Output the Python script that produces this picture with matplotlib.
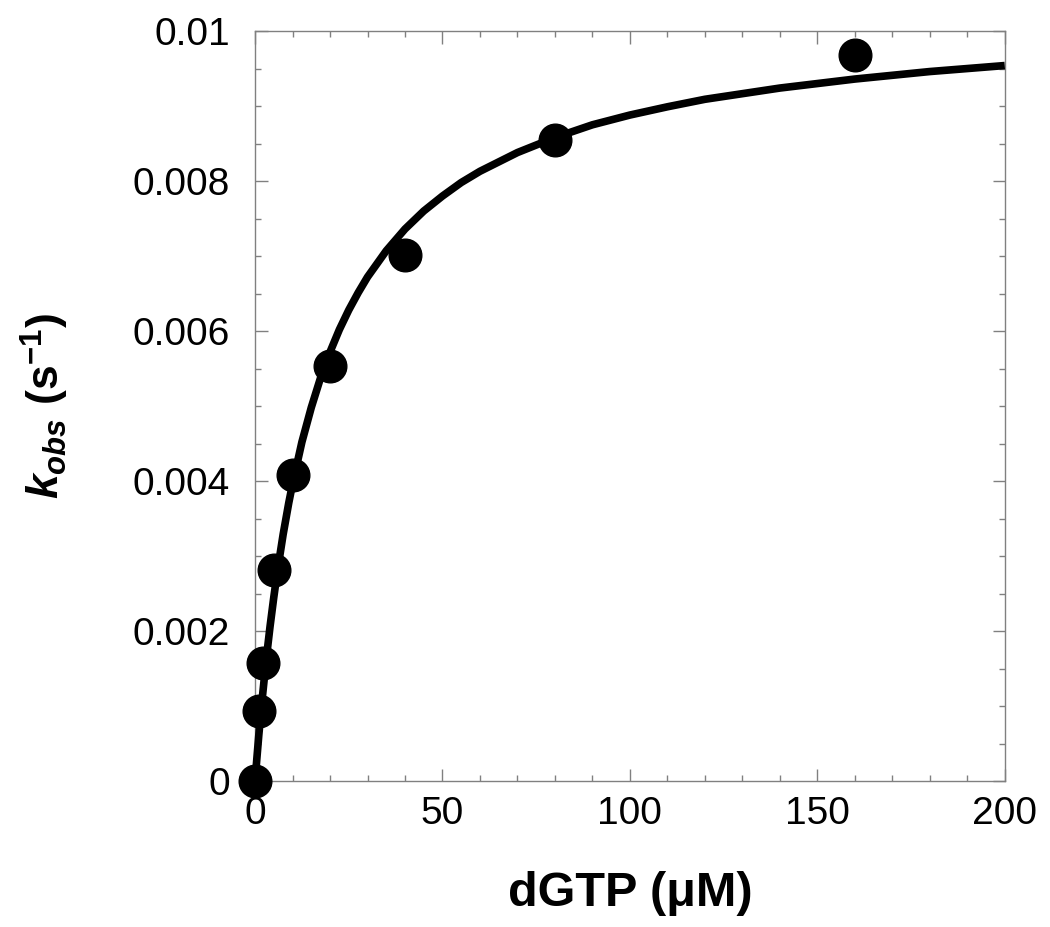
import matplotlib
matplotlib.use('Agg')
from matplotlib import pyplot as plt
from matplotlib.ticker import MultipleLocator

plt.rcParams['font.family'] = ['Liberation Sans', 'DejaVu Sans']
plt.rcParams['mathtext.fontset'] = 'custom'
plt.rcParams['mathtext.rm'] = 'Liberation Sans:bold'
plt.rcParams['mathtext.it'] = 'Liberation Sans:bold:italic'
plt.rcParams['mathtext.bf'] = 'Liberation Sans:bold'

# 测量点
dgtp = [0, 1, 2, 5, 10, 20, 40, 80, 160]
kobs = [0, 0.00093, 0.00157, 0.00281, 0.00408, 0.00553, 0.00701, 0.00855, 0.00968]

# 拟合曲线
fit_x = [0, 0.5, 1, 1.5, 2, 3, 4, 5, 6, 7.5, 9, 10, 12.5, 15, 17.5, 20, 22.5,
         25, 27.5, 30, 35, 40, 45, 50, 55, 60, 70, 80, 90, 100, 110, 120,
         140, 160, 180, 200]
fit_y = [0, 0.00031, 0.00061, 0.00088, 0.00114, 0.00163, 0.00206, 0.00245,
         0.00281, 0.00329, 0.00371, 0.00396, 0.00452, 0.00498, 0.00538,
         0.00572, 0.00602, 0.00628, 0.00651, 0.00672, 0.00707, 0.00736,
         0.00760, 0.00780, 0.00798, 0.00813, 0.00838, 0.00858, 0.00875,
         0.00888, 0.00899, 0.00909, 0.00924, 0.00936, 0.00946, 0.00954]

yticks = [0, 0.002, 0.004, 0.006, 0.008, 0.01]
ytick_labels = ['0', '0.002', '0.004', '0.006', '0.008', '0.01']
xticks = [0, 50, 100, 150, 200]

fig = plt.figure(figsize=(10.5, 9.27), dpi=100)
ax = fig.add_axes([0.2429, 0.1575, 0.714, 0.809])

ax.plot(fit_x, fit_y, color='black', lw=5.5, solid_capstyle='butt', solid_joinstyle='round',
        clip_on=False, zorder=3)
ax.plot(dgtp, kobs, 'o', color='black', ms=23.5, clip_on=False, zorder=4)

ax.set_xlim(0, 200)
ax.set_ylim(0, 0.01)
ax.set_xticks(xticks)
ax.set_yticks(yticks)
ax.set_yticklabels(ytick_labels)
ax.xaxis.set_minor_locator(MultipleLocator(10))
ax.yaxis.set_minor_locator(MultipleLocator(0.0005))

gray = '#808080'
for s in ax.spines.values():
    s.set_color(gray)
    s.set_linewidth(1.0)
ax.tick_params(which='both', direction='in', top=True, right=True, color=gray, width=1.0)
ax.tick_params(which='major', length=9, labelsize=28)
ax.tick_params(axis='y', which='major', pad=18)
ax.tick_params(axis='x', which='major', pad=11)
ax.tick_params(which='minor', length=4.5)

ax.set_xlabel('dGTP (μM)', fontsize=35, fontweight='bold')
ax.xaxis.set_label_coords(0.5, -0.12)
ax.set_ylabel(r'$\mathit{k}_{\mathit{obs}}\ \mathrm{(s^{-1})}$', fontsize=32)
ax.yaxis.set_label_coords(-0.245, 0.5)

fig.savefig('out.png', dpi=100)
